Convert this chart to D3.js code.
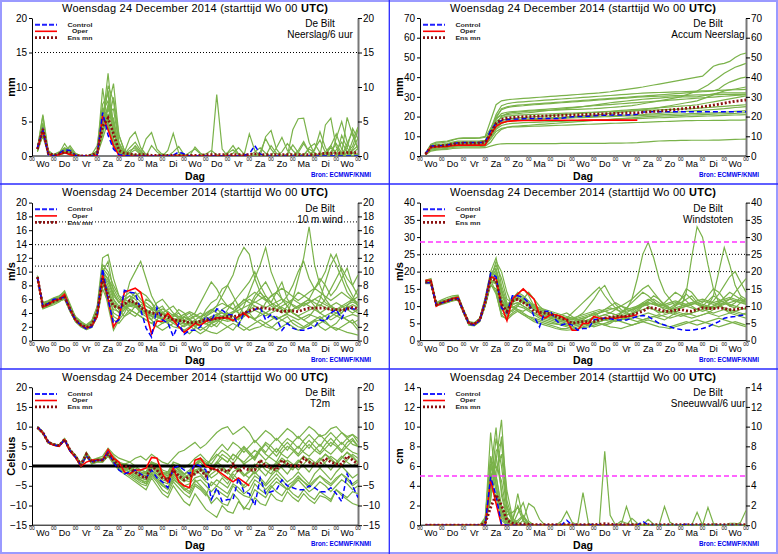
<!DOCTYPE html>
<html>
<head>
<meta charset="utf-8">
<script src="https://cdn.jsdelivr.net/npm/d3@7"></script>
<style>
  body { margin: 0; background: #fff; }
  svg { display: block; font-family: "Liberation Sans", Arial, sans-serif; }
</style>
</head>
<body>
<script>
// time steps (hours after Wo 00 UTC), 6-hourly
const hours = d3.range(6, 361, 6);
const dayNames = ["Wo","Do","Vr","Za","Zo","Ma","Di","Wo","Do","Vr","Za","Zo","Ma","Di","Wo"];

// ---- Neerslag/6 uur (mm) ----
const precipMean = [1.0,3.9,0.4,0.1,0.3,0.6,0.5,0.1,0.0,0.0,0.1,0.5,4.3,5.5,3.2,0.8,0.4,0.3,0.2,0.2,0.2,0.1,0.1,0.1,0.1,0.1,0.1,0.1,0.1,0.1,0.1,0.2,0.2,0.2,0.2,0.2,0.2,0.2,0.2,0.2,0.3,0.2,0.2,0.2,0.2,0.2,0.2,0.2,0.2,0.2,0.2,0.2,0.3,0.4,0.4,0.4,0.4,0.5,0.5,0.5];
const precipControl = [1.2,3.8,0.2,0,0.4,0.9,0.8,0.1,0,0,0,0.2,6.3,3.0,1.0,0.2,0.1,0,0,0,0,0,0,0,0,0.1,0.6,0.3,0,0,0,0,0,0,0,0,0,0,0.1,0.3,1.5,0.3,0,0,0,0,0,0,0,0,0,0,0,0,0,0,0,0,0,0];
const precipOper = [1.1,3.7,0.3,0,0.2,0.5,0.2,0,0,0,0,0.1,5.8,3.8,1.5,0.1,0,0,0,0,0,0,0,0,0,0,0,0,0,0,0,0,0,0,0,0,0,0,0,0];
const precipMembers = [
  [0.8,4.5,0.6,0.1,0.2,0.9,1.2,0.2,0,0,0.2,1.5,7.5,9.0,2.5,0.5,0.3,0.8,1.2,0.4,0,0,0.1,0.3,0.1,0,0.2,0.1,0,0,0,0,0.1,0,0,0,0.4,1.2,0.3,0,0.2,0,0,1.5,0.4,0,0,0,0.8,2.1,0.5,0,0,0.3,1.2,0.4,0,1.8,3.5,0.9],
  [1.5,3.2,0.2,0,0.4,1.8,0.6,0,0,0,0,0.3,3.5,6.0,5.5,1.2,0.2,0,0,0.3,2.5,3.4,1.0,0.2,0,0,0,0,0,0,0,0.3,0.8,0.2,0,0,0,0,0,0,0.6,1.2,0.4,0,0,0,0,3.8,5.4,5.5,2.0,0.3,0,0,0.6,1.8,0.4,0,0,0.2],
  [1.0,5.8,0.3,0.1,0.1,0.4,0.3,0,0,0,0,0.8,5.0,12.0,4.0,1.0,0.4,0.2,0,0,0,0,0,0,0,0,0,0,0,1.3,0.4,0,0,8.9,1.0,0,0,0,0,0,0,0,0,0,0,0,0,0,0,0,0,1.0,2.3,0.5,0,0,0,0.6,1.4,3.8],
  [0.6,3.0,0.5,0.2,0.5,0.7,0.9,0.3,0.1,0,0.3,0.4,9.8,4.5,2.0,0.3,0,0,0,0,0,0,0,0,0,0.6,1.4,0.2,0,0,0,0,0,0,0,0.5,1.5,0.3,0,0,0,0,0,0,0,0,0,0,0,0,0,0,0,0,0,0,0.4,5.6,3.0,1.0],
  [1.3,4.0,0.4,0,0.2,0.5,0.4,0,0,0,0,0.2,4.0,10.2,8.0,2.0,0.5,2.6,3.5,1.2,0.2,0,0,0,0,0,0,0,0,0,0,0,0,0,0,0,0,0,0,0,0,0,0,0,0,0,0,0,0,0,0,0,0,4.5,5.5,1.3,0.2,0,0,0.4],
  [0.9,3.5,0.2,0,0.3,1.0,0.5,0.1,0,0,0,0.6,6.5,8.0,3.5,0.6,0.2,0.4,0.9,0.2,0,0,0,0,0,0,0,0,0,0,0,0,0,0,0,0,0,0,0,3.2,0.8,0,0,0,0,0,0.3,1.6,0.5,0,0,0,0,0,0,0,0,0,2.2,4.2],
  [1.1,6.0,0.8,0.2,0.6,1.2,0.8,0.2,0,0,0.1,0.2,3.0,7.0,10.5,3.0,0.8,0.2,0,0,0,1.5,0.6,0,0,0,0,0,0,0,0,0,0,0,0,0,0,0,0,0,0,0,0,0,0,0,0,0,0,0,1.2,1.8,0.5,0,0,0,3.0,1.2,0,0],
  [1.2,2.8,0.3,0,0.3,0.5,0.6,0,0,0,0,0.4,7.0,5.0,1.5,0.3,0,0,0,0,0,0,0,0,0,0,0,0,0,0,0,0,0,0,0,0,0,0,0,0,0,0,2.8,3.7,1.0,0,0,0,0,0,0,0,0,0,0,0,0,0,0.8,1.5],
  [0.7,4.2,0.5,0.1,0.2,0.6,1.5,0.4,0,0,0,0.8,5.5,9.5,4.5,1.0,0.2,0,0,0,0,0,0,0,0,0,0,0,0,0,0,0,0,0,0,0,0,0,0,0,0,0,0,0,0,0,0,0,0.5,1.8,0.6,0,0,0,0,2.6,5.0,2.0,0.4,0],
  [1.0,3.6,0.3,0,0.2,0.8,0.6,0.1,0,0,0.2,0.3,6.0,6.5,6.8,1.8,0.3,1.2,2.0,0.8,0,0,0,0,0,0,0,0,0,0,0,0,0,0,0,0,0,0,0,0,0,0.6,2.5,1.0,0,0,0,0,0,0.2,1.0,0.5,0,0.6,1.5,0.4,0.1,0,0,0],
  [1.1,4.0,0.3,0.1,0.3,0.7,0.4,0.1,0,0,0.1,0.6,4.8,6.0,2.5,0.5,0.2,0,0,0,0,0,0,0,0,0,0,0,0.5,1.0,0.3,0,0,0,0,0,0,0,0,0,0,0,0,0,0,0.6,1.8,0.8,0,0,0,0,0,0,0,0.9,2.0,0.6,0,0],
  [0.9,3.3,0.4,0.1,0.4,1.1,0.9,0.2,0,0,0,0.3,3.8,7.5,5.0,1.4,0.6,0.3,0,0,0,0,0,0,0.8,3.3,0.5,0,0,0,0,0,0,0,0,0,0,0,0,0,0,0,0,0,1.2,2.7,0.8,0,0,0,0,0,0,0,0,0,0,0,1.0,2.6],
  [1.3,4.8,0.5,0,0.2,0.6,0.7,0.1,0,0,0,0.2,2.5,5.0,8.5,3.0,0.8,0.3,0.2,0,0,0,0,0,0,0,0,0,0,0,0,0,0,0,0,0.4,0.9,0.2,0,0,0,0,0,0,0,0,0,0,0,0,0,0.8,3.5,1.2,0,0,0,0,0,0],
  [0.8,3.8,0.3,0,0.3,0.9,0.8,0.1,0,0,0.1,0.7,6.8,4.2,1.2,0.4,0.2,0.1,0,0,0,0,0,0,0,0,0,0,0,0,0,0,0,0,0,0,0,0,0,0,0,0,0,0,0,0,0,0,0,0,0,0,0,0,1.5,3.2,1.0,0,0.4,1.1],
  [1.0,4.4,0.4,0.1,0.2,0.5,0.5,0.1,0,0,0,0.4,5.2,7.0,3.8,1.1,0.3,0.5,1.5,0.6,0,0,0,0,0,0,0,0,0,0,0,0,0,0,0,0,0,0,0,0,0,0,0,0,0,0,0,0,0,0,0,0,0,0,0,0,0,1.2,4.0,2.5]
];

// ---- Accum Neerslag (mm) ----
const accumMean = [1.0,4.5,5.0,5.2,5.5,6.0,6.4,6.5,6.5,6.5,6.6,7.0,11.0,16.5,18.5,19.2,19.5,19.7,19.9,20.0,20.1,20.2,20.3,20.4,20.5,20.6,20.7,20.8,20.9,21.0,21.1,21.2,21.3,21.4,21.5,21.6,21.7,21.8,21.85,21.9,22.2,22.4,22.6,22.8,23.0,23.3,23.6,23.9,24.2,24.5,24.8,25.0,25.4,25.8,26.3,26.8,27.3,27.8,28.1,28.4];
const accumControl = [1.2,5.0,5.2,5.3,5.6,6.2,6.7,6.8,6.8,6.8,6.8,7.0,13.0,16.5,18.0,18.5,18.7,18.8,18.9,19.0,19.0,19.0,19.0,19.0,19.0,19.1,19.6,19.9,20.0,20.1,20.2,20.4,20.6,20.7,20.8,20.8,20.8,20.8,20.9,21.2,22.3,22.4,22.4,22.4,22.4,22.4,22.4,22.4,22.4,22.4,22.4,22.4,22.4,22.4,22.4,22.4,22.4,22.4,22.4,22.4];
const accumOper = [0.8,4.4,4.7,4.7,4.9,5.3,5.5,5.5,5.5,5.5,5.5,5.6,11.0,15.0,16.8,17.5,17.8,17.9,18.0,18.0,18.0,18.0,18.1,18.1,18.1,18.1,18.1,18.1,18.1,18.2,18.2,18.2,18.2,18.2,18.2,18.2,18.2,18.2,18.2,18.2];
const accumMembers = [
  [1.2,5.5,6.5,6.8,7.2,8.0,9.0,9.2,9.2,9.2,9.3,10.0,18.0,26.0,28.0,28.5,28.8,29.0,29.2,29.4,29.6,29.8,30.0,30.2,30.4,30.6,30.8,31.0,31.2,31.4,31.6,31.8,32.0,32.3,32.6,33.0,33.4,33.8,34.2,34.6,35.0,35.5,36.0,36.5,37.0,37.5,38.0,38.5,39.0,39.5,40.0,40.5,43.0,45.5,46.5,47.0,48.0,50.0,51.5,52.2],
  [0.8,4.0,4.5,4.8,5.0,5.5,6.0,6.1,6.1,6.1,6.2,6.8,10.0,16.0,20.0,21.5,22.0,22.3,22.5,22.7,22.9,23.0,23.1,23.2,23.3,23.4,23.5,23.6,23.7,23.8,23.9,24.0,24.2,24.4,24.6,24.8,25.0,25.3,25.6,26.0,26.5,27.0,27.5,28.0,28.5,29.0,29.5,30.0,31.0,32.0,33.0,34.5,36.0,38.0,40.0,42.0,43.5,45.0,46.0,47.0],
  [1.0,4.8,5.2,5.4,5.8,6.4,6.8,6.9,6.9,6.9,7.0,7.4,12.0,19.0,24.0,25.0,25.5,25.8,26.0,26.2,26.4,26.6,26.8,27.0,27.2,27.4,27.6,27.8,28.0,28.2,28.4,28.6,28.8,29.0,29.2,29.4,29.6,29.8,30.0,30.2,30.4,30.6,30.8,31.0,31.2,31.4,31.6,31.8,32.0,32.2,32.4,32.6,32.8,33.0,34.0,36.0,37.5,38.5,39.5,40.0],
  [0.6,3.5,4.0,4.2,4.5,5.0,5.4,5.5,5.5,5.5,5.6,6.0,9.0,14.0,16.5,17.5,17.8,18.0,18.2,18.4,18.6,18.8,19.0,19.2,19.4,19.6,19.8,20.0,20.2,20.4,20.6,20.8,21.0,21.3,21.6,21.9,22.2,22.5,22.8,23.1,23.4,23.7,24.0,24.5,25.0,25.5,26.0,26.5,27.0,27.5,28.0,29.0,30.0,31.0,32.0,33.0,33.5,34.0,34.5,35.0],
  [1.1,5.2,5.8,6.0,6.3,7.0,7.5,7.6,7.6,7.6,7.7,8.0,13.0,20.0,23.5,24.5,25.0,25.3,25.5,25.8,26.0,26.2,26.4,26.6,26.8,27.0,27.2,27.4,27.6,27.8,28.0,28.2,28.4,28.6,28.8,29.0,29.2,29.4,29.6,29.8,30.0,30.1,30.2,30.3,30.4,30.5,30.6,30.7,30.8,30.9,31.0,31.0,31.0,31.1,31.1,31.2,31.2,31.3,31.3,31.4],
  [0.9,4.2,4.6,4.8,5.1,5.6,6.0,6.1,6.1,6.1,6.2,6.5,10.5,15.5,17.5,18.0,18.3,18.5,18.7,18.9,19.0,19.1,19.2,19.3,19.4,19.5,19.6,19.7,19.8,19.9,20.0,20.1,20.2,20.3,20.4,20.5,20.6,20.7,20.8,20.9,21.0,21.2,21.4,21.6,21.8,22.0,22.2,22.4,22.6,22.8,23.0,23.2,23.4,23.6,23.8,24.0,24.3,24.6,24.8,25.0],
  [0.7,3.0,3.4,3.6,3.9,4.3,4.6,4.7,4.7,4.7,4.8,5.0,7.0,11.0,13.5,14.5,15.0,15.2,15.4,15.6,15.8,16.0,16.2,16.4,16.6,16.8,17.0,17.2,17.4,17.6,17.8,18.0,18.2,18.4,18.6,18.8,19.0,19.2,19.4,19.6,19.8,20.0,20.1,20.2,20.3,20.4,20.5,20.6,20.7,20.8,20.9,21.0,21.1,21.2,21.3,21.4,21.5,21.6,21.8,22.0],
  [0.8,3.6,4.0,4.1,4.3,4.8,5.1,5.2,5.2,5.2,5.3,5.5,8.5,12.5,14.0,14.5,14.7,14.8,14.9,15.0,15.1,15.2,15.3,15.4,15.5,15.6,15.7,15.8,15.9,16.0,16.1,16.2,16.3,16.4,16.5,16.6,16.7,16.8,16.9,17.0,17.1,17.2,17.3,17.4,17.5,17.6,17.7,17.8,17.9,17.9,18.0,18.0,18.0,18.1,18.1,18.1,18.2,18.2,18.2,18.3],
  [0.5,2.5,3.0,3.2,3.4,3.8,4.0,4.1,4.1,4.1,4.1,4.2,5.0,5.8,6.2,6.3,6.3,6.3,6.3,6.3,6.3,6.3,6.3,6.3,6.3,6.4,6.4,6.4,6.4,6.4,6.4,6.4,6.4,6.4,6.5,6.5,6.5,6.6,6.7,6.8,7.0,7.2,7.4,7.6,7.7,7.8,7.8,7.9,7.9,8.0,8.0,8.0,8.0,8.1,8.1,8.2,8.3,8.4,8.5,8.6],
  [1.3,6.0,7.0,7.3,7.6,8.3,8.8,8.9,8.9,8.9,9.0,9.5,14.0,19.0,20.5,21.0,21.3,21.5,21.8,22.0,22.3,22.6,22.9,23.2,23.5,23.8,24.1,24.4,24.7,25.0,25.4,25.8,26.2,26.6,27.0,27.3,27.6,27.9,28.2,28.5,28.8,29.0,29.2,29.4,29.6,29.8,30.0,30.0,30.0,30.0,30.0,30.5,31.0,31.5,32.0,32.0,32.0,32.0,32.0,32.0],
  [1.0,4.6,5.1,5.3,5.6,6.1,6.5,6.6,6.6,6.6,6.7,7.1,12.0,17.5,19.5,20.2,20.5,20.7,20.9,21.0,21.1,21.2,21.3,21.4,21.5,21.6,21.7,21.8,21.9,22.0,22.1,22.2,22.3,22.4,22.5,22.6,22.7,22.8,22.9,23.0,23.1,23.2,23.3,23.4,23.5,23.6,23.7,23.8,23.9,24.0,24.2,24.4,24.6,24.8,25.0,25.2,25.4,25.6,25.8,26.0],
  [1.1,5.0,5.5,5.7,6.0,6.6,7.0,7.1,7.1,7.1,7.2,7.6,12.5,18.5,21.5,22.2,22.5,22.7,22.9,23.1,23.3,23.5,23.7,23.9,24.1,24.3,24.5,24.7,24.9,25.1,25.3,25.5,25.7,25.9,26.1,26.3,26.5,26.7,26.9,27.1,27.3,27.5,27.7,27.9,28.1,28.3,28.5,28.7,28.9,29.1,29.3,29.5,29.7,29.9,30.1,30.3,30.5,30.7,30.9,31.1],
  [0.9,4.3,4.8,5.0,5.3,5.8,6.2,6.3,6.3,6.3,6.4,6.8,10.5,15.0,17.0,17.6,17.9,18.1,18.3,18.5,18.6,18.7,18.8,18.9,19.0,19.1,19.2,19.3,19.4,19.5,19.6,19.7,19.8,19.9,20.0,20.1,20.2,20.3,20.4,20.5,20.6,20.7,20.8,20.9,21.0,21.1,21.2,21.3,21.4,21.5,21.6,21.7,21.8,21.9,22.0,22.2,22.4,22.6,22.8,23.0],
  [1.2,4.9,5.4,5.6,5.9,6.4,6.9,7.0,7.0,7.0,7.1,7.5,11.5,16.0,18.0,18.8,19.1,19.3,19.5,19.7,19.9,20.1,20.3,20.5,20.7,20.9,21.1,21.3,21.5,21.7,21.9,22.1,22.3,22.5,22.7,22.9,23.1,23.3,23.5,23.7,23.9,24.1,24.3,24.5,24.7,24.9,25.1,25.3,25.5,25.7,26.0,26.5,27.0,27.5,28.0,28.5,29.0,29.5,30.0,30.5],
  [0.7,3.8,4.3,4.5,4.8,5.2,5.6,5.7,5.7,5.7,5.8,6.1,9.5,13.5,15.5,16.2,16.5,16.7,16.9,17.0,17.1,17.2,17.3,17.4,17.5,17.6,17.7,17.8,17.9,18.0,18.1,18.2,18.3,18.4,18.5,18.6,18.7,18.8,18.9,19.0,19.1,19.2,19.3,19.4,19.5,19.6,19.7,19.8,19.9,20.0,20.1,20.2,20.3,20.4,20.5,20.6,20.7,20.8,20.9,21.0],
  [1.0,4.7,5.2,5.4,5.7,6.2,6.6,6.7,6.7,6.7,6.8,7.2,13.5,21.0,25.5,26.5,27.0,27.3,27.5,27.7,27.9,28.1,28.3,28.5,28.7,28.9,29.1,29.3,29.5,29.7,29.9,30.1,30.3,30.5,30.7,30.9,31.1,31.3,31.5,31.7,31.9,32.0,32.1,32.2,32.3,32.4,32.5,32.6,32.7,32.8,32.9,33.0,33.1,33.2,33.3,33.4,33.5,33.6,33.7,33.8]
];

// ---- 10 m wind (m/s) ----
const windMean = [9.2,5.0,5.3,5.7,6.0,6.3,4.6,3.0,2.3,1.9,2.3,4.0,9.0,6.5,5.0,4.8,5.3,5.8,5.5,4.8,4.3,4.0,3.9,3.7,3.4,3.0,2.9,2.8,2.6,2.6,2.8,3.0,3.1,3.2,3.3,3.5,3.5,3.6,4.0,4.3,4.6,4.8,4.7,4.6,4.4,4.2,4.3,4.3,4.2,4.5,4.7,4.7,4.7,4.7,4.5,4.5,4.4,4.6,4.8,4.6];
const windControl = [9.2,5.0,5.4,6.0,6.1,6.3,4.5,3.0,2.2,1.7,2.0,3.8,10.4,6.0,2.5,3.0,7.3,7.0,6.9,4.5,1.8,0.5,4.8,3.0,2.6,0.6,2.5,0.9,1.5,1.5,2.0,3.5,2.8,4.6,4.4,3.8,3.7,2.2,4.0,4.2,4.5,4.8,3.0,3.8,3.2,1.5,2.5,1.8,1.5,1.5,1.8,2.0,3.0,2.8,4.0,4.5,3.2,4.8,4.6,4.5];
const windOper = [9.2,4.9,5.2,5.8,6.0,6.7,4.5,3.0,2.2,1.8,2.1,3.5,9.5,6.0,2.0,3.3,7.0,7.3,7.6,7.0,4.0,1.0,2.8,2.8,4.0,3.0,2.0,1.2,1.8,2.5,2.2,2.8,3.0,3.3,3.3,3.3,2.9,3.5,4.0,3.3];
const windMembers = [
  [9.0,5.5,5.8,6.2,6.5,7.0,5.0,3.2,2.5,2.0,2.5,4.5,10.0,11.5,7.0,5.5,6.0,6.5,5.0,4.0,3.5,3.0,4.5,5.0,3.8,3.2,2.8,3.5,4.0,3.0,2.5,3.5,4.2,5.0,6.5,8.0,9.5,12.0,13.5,12.5,9.0,7.0,6.0,5.5,7.0,8.5,6.0,5.0,4.5,5.5,6.0,7.5,9.0,8.0,6.5,7.5,9.0,10.5,8.0,6.5],
  [9.3,4.8,5.0,5.5,5.8,6.0,4.2,2.8,2.0,1.6,2.0,3.5,8.5,7.5,4.0,3.5,4.5,6.0,7.0,6.0,5.0,4.5,3.5,3.0,2.5,2.0,1.8,2.2,3.0,3.5,4.0,3.5,2.5,2.0,3.0,4.5,5.5,4.0,3.5,5.0,6.5,7.5,8.5,7.0,5.5,4.5,4.0,6.0,9.0,12.0,16.5,11.0,8.0,6.0,5.0,4.5,4.0,5.0,6.0,5.5],
  [9.1,5.2,5.5,6.0,6.2,6.8,5.0,3.5,2.8,2.2,2.8,5.0,12.0,12.5,9.0,6.5,5.0,4.0,3.5,4.5,6.0,5.5,4.0,3.0,2.5,3.5,4.5,4.0,3.0,2.0,1.5,2.0,2.5,3.0,2.5,2.0,1.5,2.5,3.5,4.0,3.0,2.5,2.0,1.8,2.5,3.0,3.5,2.5,2.0,1.8,2.2,3.0,3.5,2.8,2.0,1.5,2.0,2.5,3.0,2.0],
  [9.4,4.6,4.9,5.2,5.6,6.2,4.8,3.1,2.4,1.9,2.2,3.8,9.0,5.0,1.5,3.0,5.5,8.5,10.0,11.5,9.0,6.5,5.0,4.2,3.6,3.0,2.0,1.5,1.0,1.8,3.0,4.5,5.5,6.0,7.5,8.0,6.5,5.0,4.0,3.5,3.0,4.0,5.5,6.5,7.0,6.0,5.0,4.0,3.5,3.0,3.5,4.5,6.0,8.5,11.0,12.5,10.0,8.0,6.5,5.0],
  [9.0,5.3,5.6,5.8,6.3,6.6,4.9,3.3,2.6,2.1,2.6,4.2,9.5,8.5,6.5,5.5,5.0,4.5,4.0,3.5,3.0,2.5,3.0,4.0,4.5,5.0,4.0,3.0,2.5,2.0,2.5,3.0,3.5,3.8,4.0,3.5,3.0,3.5,5.0,7.0,9.0,11.0,13.5,10.0,8.0,6.0,5.0,4.0,3.5,3.0,2.5,2.0,2.5,3.0,3.5,4.0,3.5,3.0,2.5,1.5],
  [9.2,4.9,5.1,5.6,5.9,6.4,4.4,2.9,2.2,1.8,2.3,3.9,8.0,7.0,5.0,4.0,4.5,5.0,5.5,5.0,4.5,3.5,3.0,2.5,2.8,3.5,4.0,3.0,2.2,1.5,1.0,1.5,2.5,3.5,4.5,5.0,5.5,6.5,7.5,8.5,10.0,8.0,6.5,5.5,5.0,5.5,6.5,8.0,10.0,11.5,9.0,7.5,8.5,10.0,12.5,11.0,9.0,7.0,6.0,7.5],
  [9.3,5.1,5.4,5.9,6.1,6.5,4.7,3.0,2.3,2.0,2.4,4.1,10.5,9.5,6.0,4.5,3.5,4.0,5.0,4.5,4.0,3.0,2.0,1.5,2.0,2.5,3.0,3.5,3.0,2.5,2.0,1.5,1.2,1.0,1.5,2.0,2.5,2.0,1.5,2.0,2.5,3.0,2.5,2.0,1.5,2.0,2.5,3.0,2.5,2.0,2.5,3.0,2.0,1.5,2.0,2.5,3.5,3.0,2.5,3.0],
  [9.1,5.0,5.2,5.7,6.0,6.1,4.5,2.9,2.1,1.7,2.0,3.6,8.8,6.0,3.5,3.0,4.0,5.5,6.5,7.0,6.5,5.5,4.5,4.0,3.5,3.0,2.5,2.0,2.5,3.0,3.5,4.0,4.5,4.0,3.5,3.0,4.0,5.0,6.0,5.5,5.0,4.5,4.0,3.5,3.0,3.5,4.0,4.5,5.0,5.5,6.0,5.0,4.0,3.5,3.0,3.5,4.0,5.0,4.5,4.0],
  [9.2,5.4,5.7,6.1,6.4,7.2,5.3,3.4,2.7,2.3,2.9,4.8,11.0,10.0,8.0,6.5,6.0,5.5,5.0,4.5,4.0,4.5,5.5,6.0,5.0,4.0,3.5,3.0,3.5,4.0,5.5,7.0,8.5,7.5,6.0,5.0,4.5,4.0,3.5,4.5,6.0,7.0,6.0,5.0,4.5,4.0,5.0,6.0,7.0,6.5,6.0,5.5,5.0,6.0,7.5,9.0,10.5,9.0,8.0,9.5],
  [9.0,4.7,5.0,5.4,5.7,6.0,4.3,2.7,2.0,1.6,1.9,3.4,7.5,5.5,3.0,2.5,3.5,4.5,4.0,3.5,3.0,2.5,2.0,2.5,3.0,2.5,2.0,1.5,2.0,2.5,3.0,2.5,2.0,2.5,3.5,4.0,3.0,2.5,2.0,1.5,1.8,2.0,2.5,3.0,3.5,3.0,2.5,2.0,1.5,1.8,2.2,2.8,3.0,2.5,2.0,1.8,1.5,1.2,1.0,0.8],
  [9.1,5.0,5.3,5.7,6.0,6.4,4.6,3.0,2.3,1.9,2.3,4.0,9.2,7.5,5.5,4.5,5.0,6.0,5.5,4.5,4.0,3.5,3.5,3.8,3.5,3.0,2.8,3.0,2.5,2.2,2.5,3.0,3.5,3.0,3.5,4.0,3.5,3.0,4.0,4.5,5.0,4.5,4.0,4.5,5.0,4.5,4.0,4.5,5.0,5.5,5.0,4.5,4.0,4.5,5.0,5.5,5.0,4.5,4.0,4.5],
  [9.3,5.1,5.4,5.8,6.1,6.5,4.8,3.1,2.4,2.0,2.4,4.2,9.8,8.0,6.0,5.0,5.8,6.5,6.0,5.0,4.5,4.0,4.2,4.0,3.5,3.2,3.0,2.5,2.2,2.5,3.0,3.5,4.0,4.5,4.0,3.8,4.2,4.8,5.5,6.0,5.5,6.0,6.5,5.5,4.5,5.0,5.5,6.0,5.5,5.0,5.5,6.0,6.5,5.5,5.0,4.5,5.0,5.5,6.0,5.0],
  [9.2,4.9,5.2,5.6,5.9,6.2,4.4,2.9,2.2,1.8,2.2,3.8,8.6,6.0,4.5,4.2,4.8,5.2,5.0,4.2,3.8,3.6,3.4,3.2,3.0,2.8,2.6,2.4,2.6,2.8,2.6,2.4,2.8,3.2,3.0,2.8,3.0,3.4,3.8,3.5,3.2,3.6,4.0,3.6,3.2,3.5,3.8,3.4,3.0,3.4,3.8,3.5,3.2,3.6,4.0,3.6,3.2,3.5,3.8,3.5],
  [9.0,5.2,5.5,5.9,6.2,6.6,4.9,3.2,2.5,2.1,2.5,4.3,9.6,9.0,7.5,6.0,5.5,5.0,4.8,5.2,5.5,4.8,4.2,3.8,3.5,3.8,3.2,2.8,3.2,3.6,3.2,2.8,2.5,2.8,3.2,3.6,4.0,4.4,4.8,5.2,5.6,5.2,4.8,5.2,5.6,6.0,5.6,5.2,4.8,5.2,5.6,6.0,5.6,5.2,4.8,4.4,4.8,5.2,5.6,5.2],
  [9.2,5.0,5.3,5.6,5.9,6.3,4.5,3.0,2.3,1.9,2.2,3.9,8.8,7.0,5.2,4.6,5.2,5.6,5.2,4.6,4.2,3.8,3.6,3.4,3.2,3.0,3.2,3.4,3.0,2.6,2.4,2.8,3.2,3.6,3.4,3.2,2.8,3.2,3.6,4.0,4.4,4.0,3.6,4.0,4.4,4.8,4.4,4.0,3.6,4.0,4.4,4.8,5.2,4.8,4.4,4.0,4.4,4.8,5.2,4.8],
  [9.4,5.3,5.6,6.0,6.3,6.9,5.1,3.3,2.6,2.2,2.6,4.4,10.2,8.8,6.8,5.6,6.4,7.0,6.4,5.6,5.0,4.6,4.2,4.6,4.2,3.6,3.4,3.8,4.2,3.8,3.4,3.8,4.4,5.0,5.4,5.0,4.6,5.2,5.8,6.4,7.0,6.4,5.8,6.4,7.0,7.6,7.0,6.4,5.8,6.4,7.0,7.6,7.0,6.4,5.8,6.4,7.0,6.4,5.8,6.4]
];

// ---- Windstoten (m/s) ----
const gustMean = [17.0,17.0,10.5,11.0,11.5,12.0,12.2,8.5,5.0,4.8,6.0,11.0,18.0,17.5,10.5,8.5,11.5,12.0,11.0,10.0,8.5,8.2,8.0,7.8,7.0,6.5,6.0,5.0,5.3,5.5,5.5,5.5,6.0,6.5,6.8,7.0,7.0,7.0,7.5,8.0,8.5,9.5,9.5,9.0,8.5,8.5,8.8,9.0,8.7,8.5,9.0,9.5,9.3,9.3,9.5,9.3,9.0,9.0,9.3,9.5];
const gustControl = [16.8,16.8,10.3,11.0,11.3,12.0,12.2,8.5,4.8,4.5,5.8,11.5,19.5,18.5,9.5,8.0,13.0,13.0,12.5,11.0,7.0,4.0,8.5,8.5,6.0,4.5,5.0,4.5,3.0,3.5,3.5,6.0,6.3,6.5,6.3,6.0,6.0,6.0,6.5,7.0,7.3,7.0,6.0,5.0,4.5,4.0,3.5,3.2,3.0,3.0,3.3,3.5,4.0,4.8,5.5,6.5,6.8,7.0,7.3,7.5];
const gustOper = [17.5,17.5,10.0,11.0,11.5,12.2,12.5,8.5,5.0,4.8,6.0,11.5,18.5,18.0,10.0,5.8,12.0,13.5,15.0,13.5,12.0,7.5,6.5,7.5,7.5,7.0,6.0,3.0,3.0,5.0,5.0,7.0,6.5,6.5,6.5,6.5,6.8,7.0,7.2,7.5];
const gustMembers = [
  [17.5,18.0,11.0,11.8,12.5,13.0,13.2,9.0,5.5,5.2,6.5,12.5,20.0,24.0,16.0,11.0,10.0,9.0,8.5,9.5,10.5,9.0,7.5,6.5,6.0,5.5,6.5,8.0,9.5,11.0,12.5,14.0,15.5,13.0,11.0,9.5,8.0,9.0,12.0,18.0,25.0,28.5,24.0,18.0,14.0,12.0,10.0,12.0,15.0,14.0,12.0,11.0,13.0,15.0,14.0,12.0,10.0,11.0,12.5,11.0],
  [16.5,16.5,10.0,10.5,11.0,11.5,11.8,8.0,4.5,4.3,5.5,10.0,16.0,15.0,8.0,7.0,9.0,10.0,9.5,8.5,7.5,6.5,6.0,5.5,5.0,4.5,4.0,3.5,4.0,4.5,5.0,5.5,5.0,4.5,5.0,6.0,7.0,6.5,6.0,5.5,6.0,6.5,7.0,6.5,6.0,7.0,8.0,9.5,14.0,24.0,33.0,30.0,22.0,15.0,11.0,9.0,8.0,7.5,7.0,6.5],
  [17.0,17.2,10.8,11.2,11.8,12.4,12.6,8.8,5.2,5.0,6.2,11.5,19.0,20.0,14.0,10.0,12.0,14.0,13.0,11.5,10.0,9.0,8.5,8.0,7.5,7.0,6.5,6.0,7.0,8.0,10.0,12.0,14.5,16.0,13.0,10.5,9.0,8.0,7.5,8.5,10.0,11.5,13.0,12.0,10.5,9.5,10.5,12.0,13.5,12.0,10.5,9.5,10.0,11.5,13.5,16.0,18.5,20.0,17.0,14.0],
  [16.8,17.0,10.4,11.0,11.4,11.9,12.0,8.4,4.8,4.6,5.8,10.8,17.5,14.0,7.0,6.5,8.0,9.0,8.0,7.0,6.0,5.5,5.0,4.5,4.0,3.5,3.5,4.0,4.5,5.0,4.5,4.0,4.5,5.0,5.5,6.0,5.5,5.0,4.5,5.0,5.5,6.0,5.5,5.0,4.5,4.0,4.5,5.0,5.5,5.0,4.5,5.0,5.5,6.0,6.5,6.0,5.5,5.0,4.5,4.0],
  [17.2,17.5,10.6,11.2,11.6,12.2,12.4,8.6,5.1,4.9,6.1,11.2,18.5,22.0,18.0,12.0,11.0,13.5,15.0,13.0,10.0,8.0,7.0,6.5,7.0,7.5,8.0,7.0,6.0,5.5,6.0,7.0,8.0,9.0,10.0,11.0,10.0,9.0,8.5,9.5,11.0,10.0,9.0,8.0,8.5,9.0,10.0,11.0,12.0,13.0,11.0,10.0,9.0,10.0,11.0,12.5,14.0,13.0,12.0,10.5],
  [16.9,16.8,10.2,10.8,11.2,11.8,12.0,8.2,4.7,4.5,5.7,10.5,17.0,16.5,9.0,7.5,10.5,11.0,10.0,9.0,8.0,7.0,6.5,6.0,5.5,5.0,4.5,4.0,3.5,4.0,4.5,5.0,5.5,6.0,6.5,7.0,7.5,8.0,9.0,10.0,11.0,12.0,11.0,10.0,9.0,8.0,7.5,7.0,7.5,8.0,8.5,9.0,10.0,13.0,20.0,27.0,22.0,16.0,13.0,12.0],
  [17.4,17.8,10.9,11.5,12.0,12.6,12.8,9.0,5.4,5.1,6.4,12.0,19.5,21.0,15.0,9.0,8.5,10.0,12.0,14.0,12.0,10.0,8.5,7.5,6.5,6.0,5.5,5.0,5.5,6.0,7.0,8.0,7.0,6.0,5.5,6.5,8.0,9.5,11.0,12.5,14.0,13.0,11.5,10.0,11.0,12.5,14.0,13.0,11.5,10.0,9.0,10.0,11.5,13.0,12.0,11.0,10.0,9.5,11.0,12.0],
  [16.6,16.7,10.1,10.7,11.1,11.6,11.9,8.1,4.6,4.4,5.6,10.2,16.5,13.5,7.5,6.0,7.5,8.5,7.5,6.5,5.5,5.0,4.5,4.0,3.5,3.2,3.0,3.2,3.5,3.8,4.0,4.5,5.0,4.5,4.0,3.8,3.5,4.0,4.5,5.0,5.5,5.0,4.5,4.0,3.8,3.5,4.0,4.5,5.0,5.5,6.0,5.5,5.0,4.5,4.0,4.5,5.0,5.5,5.0,4.5],
  [17.1,17.3,10.7,11.3,11.7,12.3,12.5,8.7,5.0,4.8,6.0,11.0,18.0,19.0,12.0,9.0,11.0,12.5,11.5,10.5,9.5,9.0,8.5,8.0,7.5,7.0,6.5,6.5,7.0,7.5,8.0,8.5,9.0,8.5,8.0,7.5,7.0,7.5,8.0,9.0,10.0,11.0,10.5,10.0,9.5,9.0,9.5,10.0,10.5,11.0,10.5,10.0,9.5,10.0,10.5,11.0,10.5,10.0,9.5,9.0],
  [16.7,16.9,10.3,10.9,11.3,11.8,12.1,8.3,4.9,4.7,5.9,10.6,17.8,23.0,20.0,14.0,10.0,8.5,7.5,7.0,6.5,6.0,5.5,5.0,4.8,4.6,4.5,4.8,5.0,5.5,6.0,6.5,7.0,7.5,8.0,9.0,10.0,11.0,12.0,13.5,15.0,16.0,14.0,12.0,10.0,9.0,8.0,7.5,7.0,6.5,7.0,7.5,8.0,9.0,10.0,11.0,12.0,14.0,16.0,18.0],
  [17.0,17.1,10.5,11.1,11.5,12.1,12.3,8.6,5.0,4.8,6.0,11.1,18.2,18.0,11.0,8.5,11.0,12.0,11.0,10.0,9.0,8.5,8.0,7.5,7.0,6.5,6.0,5.5,5.0,5.5,6.0,6.5,7.0,7.5,7.0,6.5,7.0,7.5,8.0,8.5,9.0,9.5,9.0,8.5,8.0,8.5,9.0,9.5,10.0,9.5,9.0,8.5,9.0,9.5,10.0,9.5,9.0,8.5,9.0,9.5],
  [17.3,17.4,10.7,11.2,11.7,12.2,12.4,8.7,5.2,5.0,6.2,11.4,18.8,19.5,13.0,10.0,12.5,13.5,12.5,11.0,9.5,9.0,8.5,8.0,7.5,7.0,6.5,6.0,6.5,7.0,7.5,8.0,8.5,9.0,9.5,9.0,8.5,9.0,9.5,10.0,10.5,11.0,10.5,10.0,10.5,11.0,11.5,11.0,10.5,11.0,11.5,12.0,11.5,11.0,11.5,12.0,12.5,12.0,11.5,12.0],
  [16.8,16.9,10.4,10.9,11.4,11.9,12.1,8.4,4.9,4.7,5.9,10.9,17.6,16.5,10.0,8.0,10.5,11.0,10.0,9.0,8.0,7.5,7.0,6.5,6.0,5.5,5.0,4.8,4.5,4.8,5.0,5.5,6.0,6.5,6.0,5.5,6.0,6.5,7.0,6.5,6.0,6.5,7.0,7.5,7.0,6.5,7.0,7.5,8.0,7.5,7.0,7.5,8.0,7.5,7.0,7.5,8.0,8.5,8.0,7.5],
  [17.1,17.2,10.6,11.1,11.6,12.1,12.3,8.5,5.1,4.9,6.1,11.2,18.4,20.5,14.5,10.5,9.5,10.5,11.5,10.5,9.5,8.5,8.0,7.0,6.5,6.0,5.5,5.5,6.0,6.5,7.0,7.5,8.0,8.5,9.0,9.5,10.0,9.5,9.0,9.5,10.0,10.5,11.0,10.5,10.0,9.5,9.0,9.5,10.0,10.5,11.0,10.5,10.0,9.5,10.0,10.5,11.0,11.5,11.0,10.5],
  [16.9,17.0,10.3,10.9,11.3,11.9,12.1,8.3,4.8,4.6,5.8,10.7,17.4,17.0,11.5,9.0,11.5,12.5,11.5,10.5,9.0,8.0,7.5,7.0,6.5,6.0,5.5,5.0,5.5,6.0,5.5,5.0,5.5,6.0,6.5,7.0,6.5,6.0,6.5,7.0,7.5,8.0,7.5,7.0,7.5,8.0,8.5,8.0,7.5,8.0,8.5,9.0,8.5,8.0,8.5,9.0,8.5,8.0,7.5,8.0],
  [17.2,17.3,10.6,11.2,11.7,12.2,12.4,8.6,5.1,4.9,6.1,11.3,18.6,18.5,12.0,9.5,12.0,13.0,12.0,11.0,10.0,9.5,9.0,8.5,8.0,7.5,7.0,6.5,6.0,6.5,7.0,7.5,8.0,8.5,8.0,7.5,8.0,8.5,9.0,9.5,10.5,11.5,12.0,11.0,10.0,10.5,11.0,10.5,10.0,10.5,11.0,11.5,11.0,10.5,11.0,11.5,12.0,11.5,11.0,11.5]
];

// ---- T2m (Celsius) ----
const tempMean = [9.8,8.5,6.0,5.5,5.2,6.8,4.0,2.5,0.3,3.0,1.0,1.5,1.5,3.0,1.5,0.0,0.0,-0.5,-1.5,-2.5,-3.0,0.0,-1.0,-3.0,-3.5,-1.0,-2.5,-3.5,-2.5,-2.0,-1.0,-2.5,-0.5,-1.0,-1.0,-1.5,0.5,-1.5,-0.5,-1.0,-1.0,1.5,0.0,-0.5,-1.0,1.5,0.5,0.0,0.0,2.0,1.0,0.5,0.5,2.0,1.0,0.5,0.5,2.5,1.5,0.5];
const tempControl = [9.9,8.6,6.1,5.4,5.1,6.7,3.9,2.3,0.2,2.5,1.0,1.5,1.5,3.5,1.0,-1.0,-2.0,-1.5,-1.0,-2.0,-3.0,-1.0,-3.0,-4.0,-5.5,-0.5,0.0,-1.0,-2.0,0.5,0.0,-1.0,-8.5,-5.5,-9.0,-8.5,-8.5,-3.0,-6.5,-7.0,-10.0,-3.0,-7.0,-6.5,-6.0,-3.5,-5.0,-5.5,-6.0,-6.0,-5.0,-5.5,-6.5,-6.5,-5.5,-7.0,-9.0,-2.0,-5.0,-8.0];
const tempOper = [9.8,8.4,6.0,5.3,5.0,6.6,3.8,2.2,0.0,1.0,1.5,1.5,1.5,4.2,2.0,1.0,-1.5,-2.0,-1.0,-1.0,-0.5,2.2,2.0,-2.0,-4.0,-0.5,-4.0,-5.0,-5.5,1.5,2.0,0.0,-0.5,-1.0,-2.0,-3.0,-4.0,-3.0,-4.0,-5.0];
const tempMembers = [
  [10.0,8.7,6.2,5.6,5.4,7.0,4.3,2.8,0.8,3.5,1.5,2.0,2.5,4.5,3.0,2.0,1.5,1.0,2.0,2.5,1.5,3.0,2.0,1.0,0.5,2.0,3.5,4.0,5.0,6.0,4.5,5.5,7.0,8.5,9.5,10.0,8.0,9.0,10.0,8.5,6.0,7.5,9.0,8.0,6.5,8.0,9.5,8.5,7.0,8.5,10.0,9.0,7.5,8.0,9.5,10.0,8.5,7.5,8.0,7.0],
  [9.6,8.3,5.8,5.3,5.0,6.5,3.8,2.2,-0.2,2.5,0.5,1.0,1.0,2.5,0.5,-1.0,-2.0,-3.0,-4.0,-5.0,-6.0,-3.0,-5.0,-7.0,-8.0,-5.0,-7.0,-9.0,-10.0,-7.0,-9.0,-11.0,-12.0,-13.0,-10.0,-11.5,-12.0,-9.0,-10.5,-11.0,-8.0,-9.5,-10.0,-7.0,-8.5,-9.0,-6.5,-8.0,-9.0,-7.0,-8.5,-9.5,-7.5,-8.0,-9.0,-6.0,-7.5,-8.5,-9.5,-10.0],
  [9.8,8.5,6.0,5.5,5.2,6.8,4.1,2.6,0.4,2.8,0.8,1.5,1.8,3.2,1.5,0.0,-0.5,-1.0,-2.0,-3.0,-3.5,-1.0,-2.0,-3.5,-4.0,-2.0,-3.0,-4.0,-3.0,-2.0,-1.0,-2.5,-1.0,0.5,2.0,1.0,3.0,2.0,0.5,1.5,2.5,4.5,3.0,2.0,1.0,3.5,5.0,4.0,2.5,4.0,5.5,4.0,3.0,4.5,6.0,5.0,3.5,5.0,6.5,5.0],
  [9.7,8.4,5.9,5.4,5.1,6.6,3.9,2.4,0.1,2.6,0.9,1.2,1.2,2.8,1.0,-0.5,-1.5,-2.5,-3.5,-4.5,-5.0,-2.5,-4.0,-6.0,-7.0,-4.0,-5.5,-7.0,-8.0,-5.0,-6.0,-7.5,-4.0,-5.0,-3.0,-4.5,-2.0,-3.5,-5.0,-3.0,-1.5,-3.0,-4.5,-2.5,-1.0,-2.5,-4.0,-3.0,-1.5,-3.0,-4.5,-2.0,-0.5,-2.0,-3.5,-1.5,0.0,-1.5,-3.0,-2.0],
  [9.9,8.6,6.1,5.6,5.3,6.9,4.2,2.7,0.5,3.2,1.2,1.8,2.0,3.8,2.5,1.0,0.5,1.0,0.0,-1.0,-1.5,1.0,0.0,-1.5,-2.5,0.5,-0.5,-2.0,-3.0,0.0,1.5,0.5,-1.0,1.0,3.0,2.0,0.5,2.5,4.5,3.0,1.5,4.0,6.0,5.0,3.5,5.5,7.0,6.0,4.5,6.5,8.0,6.5,5.0,7.0,8.5,7.0,5.5,7.0,8.0,6.0],
  [9.8,8.5,6.0,5.4,5.1,6.7,4.0,2.5,0.2,2.9,1.0,1.4,1.4,3.0,1.2,-0.5,-1.0,-1.5,-2.5,-3.5,-4.5,-2.0,-3.5,-5.0,-6.0,-3.5,-4.5,-6.0,-7.0,-4.5,-5.5,-7.0,-8.5,-6.0,-7.0,-8.0,-5.0,-6.5,-7.5,-8.0,-4.5,-6.0,-7.0,-5.0,-6.5,-7.5,-5.5,-7.0,-8.0,-6.0,-7.5,-8.5,-6.5,-7.5,-8.5,-6.0,-7.0,-8.0,-6.5,-7.0],
  [9.7,8.3,5.9,5.5,5.2,6.8,4.0,2.5,0.3,3.0,1.0,1.5,1.6,3.3,1.8,0.5,0.5,0.0,-1.0,-1.5,-2.0,0.5,-0.5,-1.5,-2.0,0.0,-1.0,-2.0,-1.5,0.5,2.0,1.0,-0.5,1.0,0.0,-1.5,0.5,-1.0,-2.5,-1.0,0.5,-1.0,-2.5,-0.5,1.0,-0.5,-2.0,0.0,1.5,0.0,-1.5,0.5,2.0,0.5,-1.0,1.0,2.5,1.0,0.0,1.0],
  [10.0,8.6,6.1,5.6,5.3,6.9,4.1,2.6,0.6,3.3,1.3,1.7,1.9,3.5,2.0,0.5,0.0,-0.5,-1.5,-2.0,-2.5,0.0,-1.0,-2.5,-3.0,-0.5,-1.5,-3.0,-2.0,0.0,1.0,-0.5,2.0,4.0,5.5,4.0,6.0,5.0,3.5,5.0,6.5,5.0,3.5,5.5,7.0,5.5,4.0,6.0,7.5,6.0,4.5,6.5,8.0,6.5,5.0,7.0,8.5,7.0,5.5,5.0],
  [9.6,8.2,5.8,5.3,5.0,6.5,3.7,2.2,-0.3,2.4,0.6,1.1,1.0,2.6,0.8,-1.0,-1.5,-2.0,-3.0,-4.0,-4.5,-1.5,-3.0,-4.5,-5.5,-2.5,-4.0,-5.5,-6.5,-3.5,-5.0,-6.5,-9.5,-8.0,-9.5,-10.0,-7.0,-8.5,-11.0,-9.0,-6.0,-7.0,-8.0,-5.5,-4.0,-5.0,-6.0,-4.5,-3.0,-4.0,-5.0,-3.5,-2.5,-3.5,-4.5,-3.0,-2.0,-3.5,-5.0,-4.0],
  [9.9,8.5,6.0,5.5,5.2,6.8,4.0,2.5,0.3,3.1,1.1,1.6,1.7,3.4,1.5,0.0,-1.0,-0.5,-1.5,-2.0,-1.5,1.0,-0.5,-2.0,-1.5,0.5,-1.0,-2.5,-3.5,-1.0,-2.0,-3.5,-2.0,-1.0,-2.5,-3.5,-1.5,-0.5,-2.0,-3.0,-1.0,0.5,-1.0,-2.0,0.0,1.5,0.0,-1.0,1.0,2.5,1.0,0.0,1.5,3.0,1.5,0.5,2.0,3.5,2.0,1.0],
  [9.8,8.5,6.0,5.5,5.2,6.8,4.0,2.5,0.3,3.0,1.0,1.5,1.6,3.1,1.4,0.0,-0.5,-1.0,-2.0,-2.5,-3.0,-0.5,-1.5,-3.0,-3.5,-1.0,-2.0,-3.0,-2.0,-1.0,-0.5,-2.0,-1.0,0.0,-1.0,-2.0,0.0,-1.0,-2.5,-1.5,0.0,1.5,0.0,-1.0,0.5,2.0,1.0,-0.5,1.0,2.5,1.5,0.0,1.5,3.0,2.0,0.5,2.0,3.5,2.5,1.0],
  [9.9,8.6,6.1,5.5,5.2,6.8,4.0,2.5,0.4,3.1,1.1,1.6,1.7,3.2,1.6,0.2,0.0,-0.5,-1.0,-1.5,-2.0,0.5,-0.5,-2.0,-2.5,0.0,-1.0,-2.0,-1.0,0.5,1.5,0.5,1.5,3.0,2.0,1.0,3.0,2.0,1.0,2.5,4.0,3.0,1.5,3.0,4.5,3.0,2.0,3.5,5.0,3.5,2.5,4.0,5.5,4.0,3.0,4.5,6.0,4.5,3.5,3.0],
  [9.7,8.4,5.9,5.4,5.1,6.7,3.9,2.4,0.2,2.9,0.9,1.4,1.4,2.9,1.3,-0.2,-0.8,-1.5,-2.5,-3.0,-3.5,-1.0,-2.5,-4.0,-4.5,-2.0,-3.5,-5.0,-4.5,-3.0,-2.5,-4.0,-5.0,-3.5,-4.5,-5.5,-3.0,-4.0,-5.5,-4.5,-2.5,-3.5,-5.0,-3.5,-2.0,-3.5,-5.0,-4.0,-2.5,-4.0,-5.5,-4.0,-2.5,-4.0,-5.0,-3.5,-2.0,-3.0,-4.5,-3.5],
  [9.8,8.5,6.0,5.5,5.2,6.8,4.0,2.5,0.3,3.0,1.0,1.5,1.5,3.0,1.5,0.0,-0.5,-1.0,-1.5,-2.0,-2.5,0.0,-1.0,-2.5,-3.0,-1.5,-2.5,-3.5,-4.0,-1.5,-0.5,-1.5,-3.0,-2.0,-0.5,-1.5,-3.0,-1.0,0.5,-0.5,-2.0,-0.5,1.0,0.0,-1.5,0.0,1.5,0.5,-1.0,0.5,2.0,1.0,-0.5,1.0,2.5,1.5,0.0,1.5,3.0,2.0],
  [9.9,8.6,6.1,5.6,5.3,6.9,4.1,2.6,0.5,3.1,1.2,1.7,1.8,3.3,1.7,0.5,0.5,0.0,-0.5,-1.0,-1.5,1.0,0.5,-1.0,-1.5,1.0,0.5,-0.5,0.5,2.0,3.0,1.5,0.5,2.5,4.0,3.0,1.5,3.5,5.0,3.5,2.0,4.0,5.5,4.0,2.5,4.5,6.0,4.5,3.0,5.0,6.5,5.0,3.5,5.5,7.0,5.5,4.0,6.0,7.0,5.0],
  [9.6,8.3,5.8,5.3,5.0,6.6,3.8,2.3,0.0,2.7,0.7,1.2,1.2,2.7,1.0,-0.5,-1.5,-2.0,-3.0,-3.5,-4.0,-2.0,-3.5,-5.0,-5.5,-3.0,-4.5,-6.0,-5.5,-4.0,-3.5,-5.0,-6.5,-5.0,-6.0,-7.0,-4.5,-5.5,-7.0,-6.0,-3.5,-4.5,-6.0,-4.5,-3.0,-4.5,-6.0,-5.0,-3.5,-5.0,-6.5,-5.5,-4.0,-5.0,-6.5,-5.0,-3.5,-4.5,-6.0,-5.0]
];

// ---- Sneeuwval/6 uur (cm) ----
const snowMean = [0,0,0,0,0,0,0,0,0,0,0,0.2,1.8,3.1,2.0,0.5,0.2,0.1,0.1,0.1,0.05,0.05,0.05,0.05,0.05,0.05,0.05,0.05,0.05,0.05,0.05,0.05,0.1,0.15,0.1,0.05,0.05,0.05,0.05,0.05,0.05,0.05,0.05,0.05,0.05,0.05,0.05,0.05,0.05,0.05,0.05,0.05,0.05,0.05,0.05,0.05,0.05,0.05,0.05,0.05];
const snowControl = [0,0,0,0,0,0,0,0,0,0,0,0,4.9,3.0,0.1,0,0,0,0,0,0,0,0,0,0,0,0.5,0,0,0,0,0.1,0,0,0,0,0,0,0,0,0.4,0,0,0,0,0,0,0,0.1,0,0,0,0,0,0,0,0,0,0,0];
const snowOper = [0,0,0,0,0,0,0,0,0,0,0,0,4.6,2.2,0,0,0,0,0,0,0,0,0,0,0,0,0,0,0,0,0,0,0,0,0,0,0,0,0,0];
const snowMembers = [
  [0,0,0,0,0,0,0,0,0,0,0,0.5,9.4,4.0,1.0,0.2,0,1.2,2.3,0.4,0,0,0,0,0,0,0,0,0,0,0,0,0,0,0,0,0,0,0,0,0,0,0,0,0,0,0,0,0,0,0,0,0,0,0,0,0,0,0,0],
  [0,0,0,0,0,0,0,0,0,0,0,0.2,5.5,9.9,3.0,0.8,0.2,3.2,0.5,0,0,0,0,0,0,0,0,0,0,0,0,0,0,0,0,0,0,0,0,0,0,0,0,0,0,0,0,0,0,0,0,0,0,0,0,0,0,0,0,0],
  [0,0,0,0,0,0,0,0,0,0,0,0.1,3.0,6.5,10.7,2.5,0.6,0.3,0,0,0,0,0,0,0,0,0,0,0,0,0,0,0,7.5,1.0,0,0,0,0,0,0,0,0,0,0,0,0,0,0,0,0,0,0,0,0,0,0,0,0,0],
  [0,0,0,0,0,0,0,0,0,0,0,0.8,7.0,5.0,1.5,0.3,0,0,0,0,0,0,0,0,0,0.4,1.4,0.3,0,3.3,0.2,0,0,0,0,0,0,1.9,0.2,0,0,0,0,0,0,0,0,0,0,0,0,0,0,0,0,0,0,0,0,0],
  [0,0,0,0,0,0,0,0,0,0,0,0.3,4.0,8.8,6.0,1.5,0.4,0,0.5,2.2,1.8,0.6,0,0,0,0,0,0,0,0,0,0,0,0,0,0,0,0,0,0,0,0,0,0,1.9,0.3,0,0,0,0,0,0,0,0,0,0,0,0,0,0],
  [0,0,0,0,0,0,0,0,0,0,0,0.4,6.2,3.5,0.8,0,0,0,0,0,0,0,0,0,0,0,0,0,0,0,0,0,0,0,0,0,0,0,0,0,0,0,0,0,0,0,0,0,0,0,1.3,0,1.8,0.2,0,0,0,0,0,0],
  [0,0,0,0,0,0,0,0,0,0,0,0.2,2.5,7.5,8.5,2.0,0.3,0.5,1.0,0.2,0,0,0,0,0,0,0,0,0,0,0,0,0,0,0,0,0.4,0.2,0,0,0,0,0,0,0,0,0,0,0,0,0,0,0,0,0,0,0,0,0.3,1.5],
  [0,0,0,0,0,0,0,0,0,0,0,0.6,4.5,2.8,0.5,0,0,0,0,0,0,0,0,0,0,0,0,0,0,0,0,0,0,0,0,0,0,0,0.7,0.2,0,0.6,0.1,0,0,0,0,0,0,0,0,0,0,0,0,0,0,0,0,0],
  [0,0,0,0,0,0,0,0,0,0,0,0.3,5.0,6.0,4.5,1.0,1.3,1.8,0.4,0,0,0,0,0,0,0,0,0,0,0,0,0,0,0,0,0,0,0,0,0,0,0,0,0,0,0,0,0,0,0,0,0,0,0,0,0,0,0,0,0],
  [0,0,0,0,0,0,0,0,0,0,0,0.1,3.5,4.5,9.0,3.5,0.8,0,0,0,0,0,0,0,0,0,0,0,0,0,0,0,0,0,0,0,0,0,0,0,0,0,0,0,0,0,0,0,0,0,0,0,0,0,0,0,0.2,0.2,0,0],
  [0,0,0,0,0,0,0,0,0,0,0,0.4,5.8,5.0,2.0,0.5,0,0,0,0,0,0,0,0,0,0,0,0,0,0,0,0,0,0,0,0,0,0,0,0,0,0,0,0,0,0,0,0,0,0,0,0,0,0,0,0,0,0,0,0],
  [0,0,0,0,0,0,0,0,0,0,0,0.2,4.2,7.0,3.5,0.8,0.2,0,0,0,0,0,0,0,0,0,0,0,0,0,0,0,0,0,0,0,0,0,0,0,0,0,0,0,0,0,0,0,0,0,0,0,0,0,0,0,0,0,0,0],
  [0,0,0,0,0,0,0,0,0,0,0,0.6,6.8,4.2,1.2,0.3,0.6,2.0,0.8,0,0,0,0,0,0,0,0,0,0,0,0,0,0,0,0,0,0,0,0,0,0,0,0,0,0,0,0,0,0,0,0,0,0,0,0,0,0,0,0,0],
  [0,0,0,0,0,0,0,0,0,0,0,0.1,2.8,5.5,7.2,1.8,0.4,0,0,0,0,0,0,0,0,0,0,0,0,0,0,0,0,0,0,0,0,0,0,0,0,0,0,0,0,0,0,0,0,0,0,0,0,0,0,0,0,0,0,0],
  [0,0,0,0,0,0,0,0,0,0,0,0.3,3.8,3.0,1.5,0.6,0.2,0.3,0.9,0.2,0,0,0,0,0,0,0,0,0,0,0,0,0,0,0,0,0,0,0,0,0,0,0,0,0,0,0,0,0,0,0,0,0,0,0,0,0,0,0,0]
];

const panels = [
  { sub: "Neerslag/6 uur", unit: "mm", domain: [0, 20], ticks: d3.range(0, 21, 5),
    members: precipMembers, mean: precipMean, control: precipControl, oper: precipOper,
    refs: [{ v: 15, kind: "dot" }] },
  { sub: "Accum Neerslag", unit: "mm", domain: [0, 70], ticks: d3.range(0, 71, 10),
    members: accumMembers, mean: accumMean, control: accumControl, oper: accumOper, refs: [] },
  { sub: "10 m wind", unit: "m/s", domain: [0, 20], ticks: d3.range(0, 21, 2),
    members: windMembers, mean: windMean, control: windControl, oper: windOper,
    refs: [{ v: 10.8, kind: "dot" }, { v: 13.9, kind: "dot" }, { v: 17.2, kind: "dot" }] },
  { sub: "Windstoten", unit: "m/s", domain: [0, 40], ticks: d3.range(0, 41, 5),
    members: gustMembers, mean: gustMean, control: gustControl, oper: gustOper,
    refs: [{ v: 20, kind: "dot" }, { v: 25, kind: "dot" }, { v: 28.6, kind: "magenta" }] },
  { sub: "T2m", unit: "Celsius", domain: [-15, 20], ticks: d3.range(-15, 21, 5),
    members: tempMembers, mean: tempMean, control: tempControl, oper: tempOper,
    refs: [{ v: 0, kind: "zero" }] },
  { sub: "Sneeuwval/6 uur", unit: "cm", domain: [0, 14], ticks: d3.range(0, 15, 2),
    members: snowMembers, mean: snowMean, control: snowControl, oper: snowOper,
    refs: [{ v: 5, kind: "magenta" }] }
];

const W = 778, H = 554;
const colX = [0, 388], rowY = [0, 184.6, 369.2];
const L = 32, R = 358, T = 18, B = 156;

const svg = d3.select("body").append("svg").attr("width", W).attr("height", H);
svg.append("rect").attr("width", W).attr("height", H).attr("fill", "#fff");

class Panel {
  constructor(cfg, index) {
    this.cfg = cfg;
    this.id = index;
    this.g = svg.append("g")
      .attr("transform", `translate(${colX[index % 2]},${rowY[Math.floor(index / 2)]})`);
    this.x = d3.scaleLinear().domain([0, 360]).range([L, R]);
    this.y = d3.scaleLinear().domain(cfg.domain).range([B, T]);
    this.line = d3.line().x((d, i) => this.x(hours[i])).y(d => this.y(d));

    this.drawText();
    this.drawAxes();
    this.drawSeries();
    this.drawLegend();
  }

  drawText() {
    const g = this.g;
    g.append("text").attr("x", 62).attr("y", 11.5)
      .attr("textLength", 266).attr("lengthAdjust", "spacing")
      .attr("font-size", 11).attr("fill", "#000")
      .text("Woensdag 24 December 2014 (starttijd Wo 00 ")
      .append("tspan").attr("font-weight", "bold").text("UTC)");

    g.append("text").attr("x", 320).attr("y", 27).attr("text-anchor", "middle")
      .attr("font-size", 10).text("De Bilt");
    g.append("text").attr("x", 320).attr("y", 38).attr("text-anchor", "middle")
      .attr("font-size", 10).text(this.cfg.sub);

    g.append("text").attr("transform", `translate(15,${(T + B) / 2}) rotate(-90)`)
      .attr("text-anchor", "middle").attr("font-size", 11).attr("font-weight", "bold")
      .text(this.cfg.unit);

    g.append("text").attr("x", 195).attr("y", 179.5).attr("text-anchor", "middle")
      .attr("font-size", 10.5).attr("font-weight", "bold").text("Dag");

    g.append("text").attr("x", 311).attr("y", 177)
      .attr("textLength", 60).attr("lengthAdjust", "spacingAndGlyphs")
      .attr("font-size", 6.5).attr("font-weight", "bold").attr("fill", "#0000ee")
      .text("Bron: ECMWF/KNMI");
  }

  drawAxes() {
    const g = this.g, x = this.x, y = this.y;

    const left = g.append("g").attr("transform", `translate(${L},0)`)
      .call(d3.axisLeft(y).tickValues(this.cfg.ticks).tickSize(3).tickSizeOuter(0).tickPadding(2));
    left.select(".domain").attr("stroke", "#000");
    left.selectAll("text").attr("font-size", 10).attr("fill", "#000")
      .attr("font-family", "Liberation Sans, Arial, sans-serif");

    const right = g.append("g").attr("transform", `translate(${R},0)`)
      .call(d3.axisRight(y).tickValues(this.cfg.ticks).tickSize(4).tickSizeOuter(0).tickPadding(1));
    right.select(".domain").attr("stroke", "#777").attr("stroke-width", 2);
    right.selectAll("text").attr("font-size", 10).attr("fill", "#000")
      .attr("font-family", "Liberation Sans, Arial, sans-serif");

    g.append("line").attr("x1", L).attr("x2", R).attr("y1", B).attr("y2", B)
      .attr("stroke", "#000").attr("stroke-width", 1);

    g.selectAll(".hh").data(d3.range(0, 361, 24)).enter().append("text")
      .attr("x", d => x(d)).attr("y", 161.3).attr("text-anchor", "middle")
      .attr("font-size", 5).text("00");
    g.selectAll(".day").data(dayNames).enter().append("text")
      .attr("x", (d, i) => x(i * 24 + 12)).attr("y", 167).attr("text-anchor", "middle")
      .attr("font-size", 9).text(d => d);
  }

  drawSeries() {
    const g = this.g, cfg = this.cfg, y = this.y;
    const clipId = "clip" + this.id;
    g.append("clipPath").attr("id", clipId)
      .append("rect").attr("x", L).attr("y", T - 1).attr("width", R - L).attr("height", B - T + 1);

    const plot = g.append("g").attr("clip-path", `url(#${clipId})`);

    cfg.refs.filter(r => r.kind === "dot").forEach(r => {
      plot.append("line").attr("x1", L).attr("x2", R).attr("y1", y(r.v)).attr("y2", y(r.v))
        .attr("stroke", "#000").attr("stroke-width", 1).attr("stroke-dasharray", "1,2");
    });

    plot.selectAll(".member").data(cfg.members).enter().append("path")
      .attr("d", d => this.line(d))
      .attr("fill", "none").attr("stroke", "#7ab24a").attr("stroke-width", 1.2);

    cfg.refs.filter(r => r.kind !== "dot").forEach(r => {
      const l = plot.append("line").attr("x1", L).attr("x2", R).attr("y1", y(r.v)).attr("y2", y(r.v));
      if (r.kind === "zero") l.attr("stroke", "#000").attr("stroke-width", 3);
      else l.attr("stroke", "#ff33ff").attr("stroke-width", 1.5).attr("stroke-dasharray", "5,3");
    });

    plot.append("path").attr("d", this.line(cfg.oper))
      .attr("fill", "none").attr("stroke", "#ff0000").attr("stroke-width", 1.6);
    plot.append("path").attr("d", this.line(cfg.control))
      .attr("fill", "none").attr("stroke", "#0000ff").attr("stroke-width", 1.5)
      .attr("stroke-dasharray", "5,3");
    plot.append("path").attr("d", this.line(cfg.mean))
      .attr("fill", "none").attr("stroke", "#8b1010").attr("stroke-width", 2.8)
      .attr("stroke-dasharray", "2,2");
  }

  drawLegend() {
    const g = this.g;
    const items = [
      { label: "Control", y: 24.7, ty: 26.6, stroke: "#2020ff", w: 2, dash: "5,2" },
      { label: "Oper", y: 31.3, ty: 33.3, stroke: "#ff0000", w: 1.6, dash: null },
      { label: "Ens mn", y: 37.7, ty: 40.1, stroke: "#8b1010", w: 2.8, dash: "2,2" }
    ];
    items.forEach(it => {
      g.append("line").attr("x1", 35).attr("x2", 57).attr("y1", it.y).attr("y2", it.y)
        .attr("stroke", it.stroke).attr("stroke-width", it.w)
        .attr("stroke-dasharray", it.dash);
      g.append("text").attr("x", 80).attr("y", it.ty).attr("text-anchor", "middle")
        .attr("font-size", 5.8).attr("font-weight", "bold").attr("fill", "#222")
        .attr("textLength", it.label === "Oper" ? 16 : 25).attr("lengthAdjust", "spacingAndGlyphs")
        .text(it.label);
    });
  }
}

panels.forEach((cfg, i) => new Panel(cfg, i));

// panel frames
svg.append("rect").attr("x", 1).attr("y", 1).attr("width", W - 2).attr("height", H - 2)
  .attr("fill", "none").attr("stroke", "#9a9aff").attr("stroke-width", 2);
svg.append("line").attr("x1", 389.3).attr("x2", 389.3).attr("y1", 0).attr("y2", H)
  .attr("stroke", "#2a2aff").attr("stroke-width", 1.3);
[184, 369].forEach(v => {
  svg.append("line").attr("x1", 0).attr("x2", W).attr("y1", v).attr("y2", v)
    .attr("stroke", "#2a2aff").attr("stroke-width", 1.3);
});
</script>
</body>
</html>
